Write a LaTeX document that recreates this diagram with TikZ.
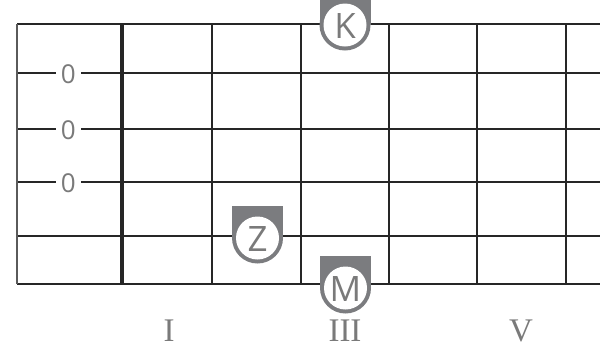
\documentclass[tikz,border=0pt]{standalone}
\usepackage{fontspec}
\newfontfamily\markfont{Open Sans}
\newfontfamily\romfont{Liberation Serif}
\definecolor{gridc}{HTML}{262626}
\definecolor{edgec}{HTML}{5A5A5A}
\definecolor{markgray}{HTML}{7B7C7F}
\definecolor{txtgray}{HTML}{7A7A7A}
\tikzset{
  gridline/.style={draw=gridc, line width=1.3pt},
  nutline/.style={draw=gridc, line width=4pt},
  edgeline/.style={draw=edgec, line width=1.6pt},
  zerolbl/.style={fill=white, inner xsep=5pt, inner ysep=1pt, text=txtgray, font=\markfont\fontsize{26}{26}\selectfont},
  marktext/.style={text=txtgray, inner sep=0pt, font=\markfont\fontsize{35}{35}\selectfont},
  fretlbl/.style={text=txtgray, anchor=base, inner sep=0pt, font=\romfont\fontsize{33}{33}\selectfont},
  fmark/.pic={
    \fill[markgray] (-25.5,-32) rectangle (25.5,0);
    \fill[markgray] (0,0) circle[radius=25.5];
    \fill[white] (0,0) circle[radius=21.5];
  }
}
\begin{document}
\begin{tikzpicture}[x=1pt,y=-1pt]
\useasboundingbox (0,0) rectangle (613,349);
\clip (0,0) rectangle (613,349);
% strings
\foreach \yy in {24,73,129,182,236,284} {
  \draw[gridline] (17,\yy) -- (600,\yy);
}
% frets
\foreach \xx in {212,301,389,477,566} {
  \draw[gridline] (\xx,24) -- (\xx,284);
}
\draw[edgeline] (17,24) -- (17,284);
\draw[nutline] (122,24) -- (122,284);
% open string labels
\node[zerolbl] (z1) at (68.3,74) {0};
\node[zerolbl] (z2) at (68.3,130) {0};
\node[zerolbl] (z3) at (68.3,183) {0};
% markers
\pic at (345,25) {fmark};
\node[marktext] (K) at (345,26) {K};
\pic at (257.5,238) {fmark};
\node[marktext] (Z) at (257.5,239) {Z};
\pic at (345.5,288) {fmark};
\node[marktext] (M) at (345.5,289) {M};
% fret numbers
\node[fretlbl] (f1) at (169,341) {I};
\node[fretlbl] (f3) at (345,341) {III};
\node[fretlbl] (f5) at (521,341) {V};
\end{tikzpicture}
\end{document}
